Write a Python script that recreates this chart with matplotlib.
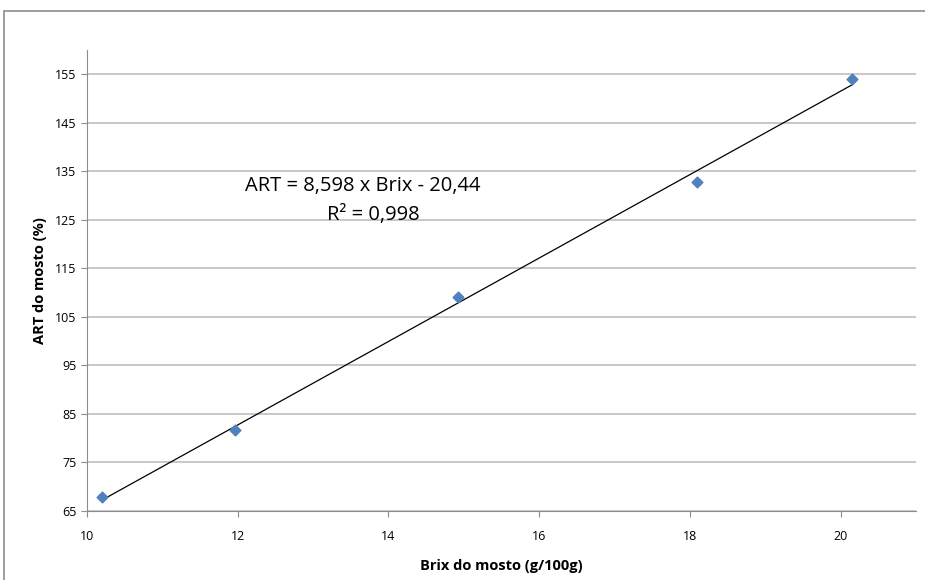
import matplotlib
matplotlib.use('Agg')
import matplotlib.pyplot as plt
from matplotlib.patches import Rectangle
import numpy as np

# data
brix = [10.2, 11.97, 14.92, 18.1, 20.15]
art = [67.9, 81.7, 109.2, 132.7, 154.1]
slope = 8.598
intercept = -20.44
x_ticks = [10, 12, 14, 16, 18, 20]
y_ticks = [65, 75, 85, 95, 105, 115, 125, 135, 145, 155]

plt.rcParams['font.family'] = ['Open Sans', 'DejaVu Sans']

fig = plt.figure(figsize=(9.25, 5.8), dpi=100)
ax = fig.add_axes([87 / 925, 69 / 580, 829 / 925, 461 / 580])

# outer chart frame (cut off on the right and bottom)
fig.patches.append(Rectangle((4 / 925, -0.05), 1.1, 1.05 - 11 / 580,
                             transform=fig.transFigure, fill=False,
                             edgecolor='#8c8c8c', linewidth=1.2))

ax.scatter(brix, art, marker='D', s=30, color='#4F81BD', zorder=3)

xs = np.array([brix[0], brix[-1]])
ax.plot(xs, slope * xs + intercept, color='black', linewidth=0.9, zorder=2)

ax.set_xlim(10, 21)
ax.set_ylim(65, 160)
ax.set_xticks(x_ticks)
ax.set_yticks(y_ticks)
ax.grid(axis='y', color='#bfbfbf', linewidth=1.2)
ax.set_axisbelow(True)

for s in ['top', 'right']:
    ax.spines[s].set_visible(False)
for s in ['left', 'bottom']:
    ax.spines[s].set_color('#8c8c8c')
ax.tick_params(axis='both', colors='#8c8c8c', labelcolor='black',
               labelsize=9, length=4, direction='out')
ax.tick_params(axis='x', pad=10)

ax.set_xlabel('Brix do mosto (g/100g)', fontsize=10.5, fontweight='bold', labelpad=11)
ax.set_ylabel('ART do mosto (%)', fontsize=10.5, fontweight='bold', labelpad=6)

ax.text(13.66, 132, 'ART = 8,598 x Brix - 20,44', ha='center', va='center', fontsize=14.5)
ax.text(13.8, 125.9, 'R² = 0,998', ha='center', va='center', fontsize=14.5)

fig.savefig('out.png', dpi=100)
